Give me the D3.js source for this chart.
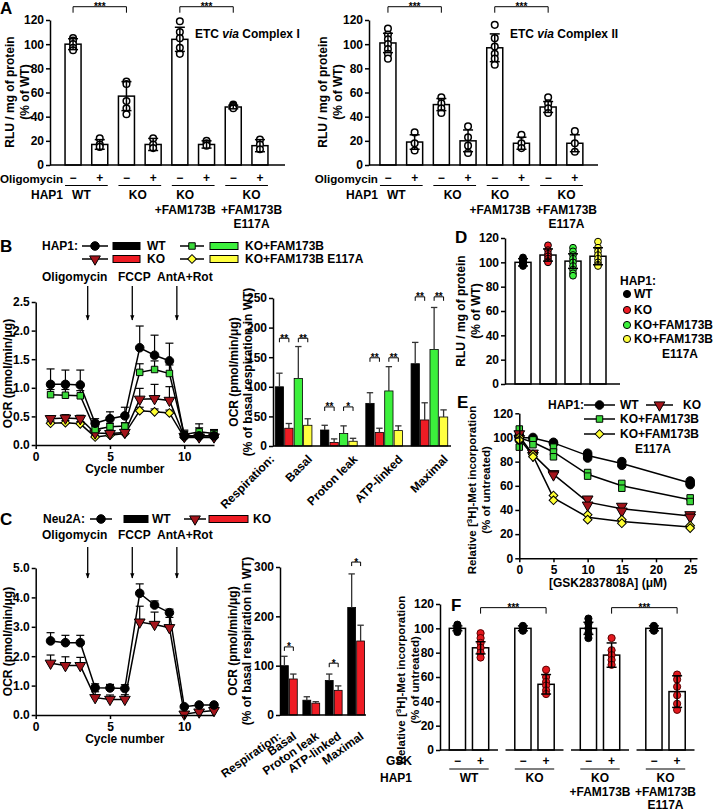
<!DOCTYPE html>
<html><head><meta charset="utf-8">
<script src="https://cdn.jsdelivr.net/npm/d3@7/dist/d3.min.js"></script>
<style>
html,body{margin:0;padding:0;background:#fff;}
svg{display:block;}
text{font-family:"Liberation Sans",Arial,Helvetica,sans-serif;font-weight:bold;}
</style></head>
<body>
<svg id="fig" width="713" height="812"></svg>
<script>
// ================= DATA =================
// ---- Panel A ----
const aTreatment = ["−","+","−","+","−","+","−","+"];
const aCellLines = [["WT"],["KO"],["KO","+FAM173B"],["KO","+FAM173B","E117A"]];
const aYTicks = [0,20,40,60,80,100,120];
const aSigPairs = [[0,2],[4,6]];
const aSigLevel = 131;
const aComplexIMean = [100,17,57,17,104,17,48,16];
const aComplexISd = [4.5,4,12,5,10,3,1.5,5];
const aComplexIPoints = [[105,103,100,97,95],[22,17,15],[69,67,53,47,42],[22,17,14],[119,110,105,97,92],[20,18,16],[50,49,48,47],[21,17,13]];
const aComplexIIMean = [101,19,50,20,97,18,48,18];
const aComplexIISd = [8,6,5,9,11.5,5,4.5,7];
const aComplexIIPoints = [[113,108,104,100,96,92,88],[27,18,12],[56,51,47,43],[32,23,16,10],[116,105,98,92,88,83],[25,18,14],[56,51,47,43],[28,18,11]];

// ---- Panel B ----
const cycles = [1,2,3,4,5,6,7,8,9,10,11,12];
const injections = ["Oligomycin","FCCP","AntA+Rot"];
const injectionAt = [3.5,6.5,9.5];
const cycleTicks = [0,5,10];
const bYTicks = [0,0.5,1,1.5,2,2.5];
const bWT    = [1.06,1.06,1.05,0.38,0.46,0.51,1.70,1.57,1.47,0.16,0.16,0.16];
const bWTSd  = [0.27,0.25,0.26,0.08,0.12,0.15,0.38,0.35,0.31,0.10,0.14,0.10];
const bKO    = [0.46,0.47,0.46,0.21,0.20,0.22,0.80,0.81,0.78,0.15,0.14,0.14];
const bKOSd  = [0.05,0.06,0.06,0.03,0.03,0.03,0.19,0.25,0.24,0.03,0.04,0.03];
const bFAM   = [0.88,0.87,0.86,0.27,0.32,0.33,1.27,1.32,1.25,0.18,0.23,0.20];
const bFAMSd = [0.09,0.10,0.09,0.06,0.06,0.06,0.15,0.15,0.15,0.06,0.14,0.07];
const bE117A   = [0.38,0.39,0.37,0.14,0.17,0.20,0.60,0.58,0.56,0.13,0.13,0.13];
const bE117ASd = [0.04,0.04,0.04,0.03,0.03,0.03,0.06,0.05,0.05,0.03,0.03,0.03];
const respCategories = ["Basal","Proton leak","ATP-linked","Maximal"];
const bRespYTicks = [0,50,100,150,200,250];
const bRespWT = [100,27,72,139];   const bRespWTSd = [23,8,18,36];
const bRespKO = [30,6,23,44];      const bRespKOSd = [8,6,7,29];
const bRespFAM = [114,21,93,163];  const bRespFAMSd = [54,13,41,71];
const bRespE117A = [35,8,26,49];   const bRespE117ASd = [11,5,8,12];
const bRespSig = [["**","**"],["**","*"],["**","**"],["**","**"]];
const bRespSigLevel = [182,66,149,252];

// ---- Panel C ----
const cYTicks = [0,1,2,3,4,5];
const cWT   = [2.52,2.46,2.46,0.93,0.92,0.90,4.14,3.74,3.48,0.28,0.34,0.34];
const cWTSd = [0.28,0.25,0.25,0.13,0.12,0.13,0.32,0.14,0.12,0.05,0.04,0.05];
const cKO   = [1.76,1.68,1.68,0.59,0.53,0.53,3.16,3.08,2.97,0.03,0.10,0.15];
const cKOSd = [0.28,0.30,0.28,0.20,0.15,0.16,0.54,0.42,0.35,0.03,0.03,0.04];
const cRespYTicks = [0,100,200,300];
const cRespWT = [100,30,70,218];  const cRespWTSd = [19,7,13,68];
const cRespKO = [73,24,50,150];   const cRespKOSd = [10,3,9,32];
const cRespSig = ["*","","*","*"];
const cRespSigLevel = [138,0,105,310];

// ---- Panel D ----
const dLines = ["WT","KO","KO+FAM173B","KO+FAM173B"];
const dKeys = ["WT","KO","FAM","E117A"];
const dYTicks = [0,20,40,60,80,100,120];
const dMean = [100,106,101,105];
const dSd = [3,5,6,7];
const dPoints = [[104,103,102,101,100,99,98,97],[114,110,107,105,103,101,100],[112,109,106,103,100,97,94,91,89],[117,112,109,106,103,100,98,97]];

// ---- Panel E ----
const eDoses = [0,2,5,10,15,25];
const eXTicks = [0,5,10,15,20,25];
const eYTicks = [0,20,40,60,80,100,120];
const eWT    = [[102,100,98],[100,99],[96,95],[87,85,83],[80,77],[64,62,61]];
const eKO    = [[103,99],[87,85],[70,69],[49,44],[43,39],[36,34]];
const eFAM   = [[107,100,92],[98,94],[92,88,84],[71,68],[62,58],[50,47]];
const eE117A = [[100,98],[86,84],[52,48],[36,32],[32,29],[27,25]];

// ---- Panel F ----
const fTreatment = ["−","+"];
const fCellLines = [["WT"],["KO"],["KO","+FAM173B"],["KO","+FAM173B","E117A"]];
const fYTicks = [0,20,40,60,80,100,120];
const fMean = [[100,84],[100,54],[100,78],[100,48]];
const fSd = [[2,5],[2,8],[5,10],[2,13]];
const fPoints = [[[103,101,100,99,97],[96,92,88,84,80,76]],
                 [[102,101,100,99,98],[66,60,56,53,49,46]],
                 [[108,104,100,96,92],[92,82,78,74,70]],
                 [[102,101,100,99,98],[62,58,52,45,38,33]]];
const fSigPairs = [[0,1],[2,3]];
const fSigLevel = 117;

// ================= STYLE =================
const FONT = '"Liberation Sans", Arial, Helvetica, sans-serif';
const STY = {
  WT:    {fill:"#000000", bar:"#000000", sym:"circle"},
  KO:    {fill:"#a3141b", bar:"#ee1c24", sym:"triangle"},
  FAM:   {fill:"#3ad83a", bar:"#3cf03c", sym:"square"},
  E117A: {fill:"#ffff33", bar:"#ffff40", sym:"diamond"}
};

const svg = d3.select("#fig");
svg.append("rect").attr("width",713).attr("height",812).attr("fill","#fff");
const defs = svg.append("defs");
defs.append("marker").attr("id","arrow").attr("viewBox","0 0 10 10").attr("refX",9).attr("refY",5)
  .attr("markerWidth",4).attr("markerHeight",5).attr("orient","auto")
  .append("path").attr("d","M0,1L10,5L0,9z").attr("fill","#000");

// ================= HELPERS =================
function txt(g, x, y, s, size=12, anchor="start", rot=null) {
  const t = g.append("text").attr("x",x).attr("y",y).attr("font-size",size).attr("text-anchor",anchor).attr("fill","#000").text(s);
  if (rot!==null) t.attr("transform",`rotate(${rot},${x},${y})`);
  return t;
}
function styleAxis(g){
  g.attr("font-family",FONT).attr("font-size",12).attr("font-weight","bold");
  g.selectAll("path,line").attr("stroke","#000").attr("stroke-width",1.5);
  g.selectAll("text").attr("fill","#000");
}
function yAxis(x0, y, ticks, fmt){
  const g = svg.append("g").attr("transform",`translate(${x0},0)`)
    .call(d3.axisLeft(y).tickValues(ticks).tickFormat(fmt).tickSize(4).tickSizeOuter(0).tickPadding(2));
  styleAxis(g); return g;
}
function xAxis(y0, x, ticks, fmt){
  const g = svg.append("g").attr("transform",`translate(0,${y0})`)
    .call(d3.axisBottom(x).tickValues(ticks).tickFormat(fmt).tickSize(4).tickSizeOuter(0).tickPadding(3));
  styleAxis(g); return g;
}
function hline(g, x1, x2, y, w=1.5){
  g.append("line").attr("x1",x1).attr("x2",x2).attr("y1",y).attr("y2",y).attr("stroke","#000").attr("stroke-width",w);
}
function errBar(g, x, yLo, yHi, half, both, color="#000", w=1.5){
  g.append("line").attr("x1",x).attr("x2",x).attr("y1",yLo).attr("y2",yHi).attr("stroke",color).attr("stroke-width",w);
  g.append("line").attr("x1",x-half).attr("x2",x+half).attr("y1",yHi).attr("y2",yHi).attr("stroke",color).attr("stroke-width",w);
  if (both) g.append("line").attr("x1",x-half).attr("x2",x+half).attr("y1",yLo).attr("y2",yLo).attr("stroke",color).attr("stroke-width",w);
}
function bracket(g, x1, x2, yb, label, drop=5, size=10){
  g.append("path").attr("d",`M${x1},${yb+drop}V${yb}H${x2}V${yb+drop}`).attr("fill","none").attr("stroke","#000").attr("stroke-width",1);
  txt(g,(x1+x2)/2, yb+3.5, label, size, "middle");
}
function drawSymbol(g, key, x, y){
  const st = STY[key];
  if (st.sym==="circle"){
    g.append("circle").attr("cx",x).attr("cy",y).attr("r",4.3).attr("fill",st.fill).attr("stroke","#000").attr("stroke-width",1);
    return;
  }
  let type=d3.symbolSquare, size=42, rot=0;
  if (st.sym==="triangle"){ type=d3.symbolTriangle; size=50; rot=180; }
  if (st.sym==="diamond"){ type=d3.symbolSquare; size=38; rot=45; }
  g.append("path").attr("d",d3.symbol(type,size)()).attr("transform",`translate(${x},${y}) rotate(${rot})`)
    .attr("fill",st.fill).attr("stroke","#000").attr("stroke-width",1);
}
function legendLine(g, key, x1, x2, y){
  hline(g,x1,x2,y,1.5);
  drawSymbol(g,key,(x1+x2)/2,y);
}
function legendRect(g, key, x1, x2, y){
  g.append("rect").attr("x",x1).attr("y",y-3.5).attr("width",x2-x1).attr("height",7)
    .attr("fill",STY[key].bar).attr("stroke","#000").attr("stroke-width",1);
}
function rotLabel(g, x, y, lines, size=12, gap=15){
  lines.forEach((s,i)=>txt(g, x + i*gap, y, s, size, "middle", -90));
}

// ================= PANEL A =================
function panelA(cfg){
  const g = svg.append("g");
  const y = d3.scaleLinear().domain([0,120]).range([165,20]);
  const x = d3.scaleBand().domain(d3.range(cfg.mean.length)).range(cfg.range).paddingInner(0.4).paddingOuter(0.2);
  const bw = x.bandwidth();
  const cx = i => x(i)+bw/2;
  g.selectAll("rect.bar").data(cfg.mean).join("rect").attr("class","bar")
    .attr("x",(d,i)=>x(i)).attr("y",d=>y(d)).attr("width",bw).attr("height",d=>y(0)-y(d))
    .attr("fill","#fff").attr("stroke","#000").attr("stroke-width",1.5);
  cfg.points.forEach((arr,i)=>arr.forEach(v=>{
    g.append("circle").attr("cx",cx(i)).attr("cy",y(v)).attr("r",3.3).attr("fill","#fff").attr("stroke","#000").attr("stroke-width",1.5);
  }));
  cfg.mean.forEach((m,i)=>errBar(g,cx(i),y(m-cfg.sd[i]),y(m+cfg.sd[i]),5,true));
  yAxis(cfg.axisX, y, aYTicks, d3.format("d"));
  hline(g, cfg.axisX, cfg.axisEnd, y(0));
  aSigPairs.forEach(p=>bracket(g,cx(p[0]),cx(p[1]),y(aSigLevel),"***",6,10));
  const t = g.append("text").attr("x",cfg.titleX).attr("y",38).attr("font-size",12).attr("fill","#000").attr("text-anchor","start");
  t.append("tspan").text("ETC ");
  t.append("tspan").attr("font-style","italic").text("via");
  t.append("tspan").text(cfg.title);
  const lx = cx(0)-10;
  txt(g, lx, 182.5, "Oligomycin", 11.6, "end");
  txt(g, lx, 199, "HAP1", 12, "end");
  aTreatment.forEach((s,i)=>txt(g,cx(i),182,s,12,"middle"));
  const labShift = [-5,-2,-8,5];
  aCellLines.forEach((lines,k)=>{
    hline(g, x(2*k), x(2*k+1)+bw, 185.5, 1.2);
    const mid = (cx(2*k)+cx(2*k+1))/2 + labShift[k];
    lines.forEach((s,j)=>txt(g, mid, [199,213.5,227.5][j], s, 12, "middle"));
  });
  rotLabel(g, cfg.ylabX, 92, ["RLU / mg of protein","(% of WT)"]);
}
txt(svg, 0, 14, "A", 17);
panelA({mean:aComplexIMean, sd:aComplexISd, points:aComplexIPoints, range:[59.7,273.3], axisX:50, axisEnd:285, title:" Complex I", titleX:195, ylabX:14});
panelA({mean:aComplexIIMean, sd:aComplexIISd, points:aComplexIIPoints, range:[374.6,588.2], axisX:369, axisEnd:598, title:" Complex II", titleX:510, ylabX:327});

// ================= LINE CHART (B & C left) =================
function lineChart(cfg){
  const g = svg.append("g");
  const x = d3.scaleLinear().domain([0,12]).range([35.7,214]);
  const y = d3.scaleLinear().domain(cfg.yDomain).range(cfg.yRange);
  const line = d3.line().x((d,i)=>x(cycles[i])).y(d=>y(d));
  cfg.series.forEach(s=>g.append("path").datum(s.vals).attr("d",line).attr("fill","none").attr("stroke","#000").attr("stroke-width",1.5));
  cfg.series.forEach(s=>s.vals.forEach((v,i)=>errBar(g,x(cycles[i]),y(v),y(v+s.sd[i]),4,false,"#000",1.2)));
  cfg.series.forEach(s=>s.vals.forEach((v,i)=>drawSymbol(g,s.key,x(cycles[i]),y(v))));
  yAxis(x(0), y, cfg.yTicks, d3.format(".1f"));
  xAxis(y(0), x, cycleTicks, d3.format("d"));
  txt(g, x(6), cfg.yRange[0]+28, "Cycle number", 12, "middle");
  rotLabel(g, 12, (cfg.yRange[0]+cfg.yRange[1])/2, ["OCR (pmol/min/μg)"]);
  const ax = [42,118,157];
  injections.forEach((s,i)=>{
    txt(g, ax[i], cfg.annY, s, 12, "start");
    g.append("line").attr("x1",x(injectionAt[i])).attr("x2",x(injectionAt[i])).attr("y1",cfg.arrowY[0]).attr("y2",cfg.arrowY[1])
      .attr("stroke","#000").attr("stroke-width",1.3).attr("marker-end","url(#arrow)");
  });
}

// ================= GROUPED BARS (B & C right) =================
function groupedBars(cfg){
  const g = svg.append("g");
  const y = d3.scaleLinear().domain(cfg.yDomain).range(cfg.yRange);
  const xg = d3.scaleBand().domain(respCategories).range(cfg.xRange).paddingInner(cfg.pi).paddingOuter(cfg.po);
  const keys = cfg.series.map(s=>s.key);
  const xs = d3.scaleBand().domain(keys).range([0,xg.bandwidth()]).paddingInner(0.12);
  const bw = xs.bandwidth();
  cfg.series.forEach(s=>{
    g.selectAll(null).data(s.vals).join("rect")
      .attr("x",(d,i)=>xg(respCategories[i])+xs(s.key)).attr("y",d=>y(d)).attr("width",bw).attr("height",d=>y(0)-y(d))
      .attr("fill",STY[s.key].bar).attr("stroke","#000").attr("stroke-width",0.8);
    s.vals.forEach((v,i)=>errBar(g,xg(respCategories[i])+xs(s.key)+bw/2,y(v),y(v+s.sd[i]),3.2,false,"#333",1.3));
  });
  yAxis(cfg.xRange[0], y, cfg.yTicks, d3.format("d"));
  hline(g, cfg.xRange[0], cfg.xRange[1]+1, y(0));
  respCategories.forEach((c,i)=>{
    cfg.sigPairs.forEach((p,j)=>{
      const lab = cfg.sig(i,j);
      if (!lab) return;
      const x1 = xg(c)+xs(keys[p[0]])+bw/2, x2 = xg(c)+xs(keys[p[1]])+bw/2;
      bracket(g,x1,x2,y(cfg.sigLevel[i]),lab,4,10);
    });
  });
  txt(g, cfg.xRange[0]+2, cfg.labY, "Respiration:", 12, "end", cfg.rot);
  respCategories.forEach(c=>txt(g, xg(c)+xg.bandwidth()+cfg.labDx, cfg.labY, c, 12, "end", cfg.rot));
  const cy = (cfg.yRange[0]+cfg.yRange[1])/2;
  rotLabel(g, cfg.ylabX, cy, ["OCR (pmol/min/μg)","(% of basal respiration in WT)"], 12, 14);
}

// ================= PANEL B =================
txt(svg, 0, 252, "B", 17);
{
  const g = svg.append("g");
  txt(g, 42, 250, "HAP1:", 12);
  legendLine(g,"WT",82,108,246); legendRect(g,"WT",113,140,246); txt(g,147,250,"WT");
  legendLine(g,"FAM",180,204,246); legendRect(g,"FAM",210,238,246); txt(g,245,250,"KO+FAM173B");
  legendLine(g,"KO",82,108,259); legendRect(g,"KO",113,140,259); txt(g,147,263,"KO");
  legendLine(g,"E117A",180,204,259); legendRect(g,"E117A",210,238,259); txt(g,245,263,"KO+FAM173B E117A");
}
lineChart({yDomain:[0,2.5], yRange:[445,302], yTicks:bYTicks, annY:281, arrowY:[286,320],
  series:[{key:"E117A",vals:bE117A,sd:bE117ASd},{key:"KO",vals:bKO,sd:bKOSd},{key:"FAM",vals:bFAM,sd:bFAMSd},{key:"WT",vals:bWT,sd:bWTSd}]});
groupedBars({yDomain:[0,250], yRange:[446,298], yTicks:bRespYTicks, xRange:[273,450], pi:0.19, po:0.05,
  series:[{key:"WT",vals:bRespWT,sd:bRespWTSd},{key:"KO",vals:bRespKO,sd:bRespKOSd},{key:"FAM",vals:bRespFAM,sd:bRespFAMSd},{key:"E117A",vals:bRespE117A,sd:bRespE117ASd}],
  sigPairs:[[0,1],[2,3]], sig:(i,j)=>bRespSig[i][j], sigLevel:bRespSigLevel, labY:460, labDx:1, rot:-45, ylabX:238});

// ================= PANEL C =================
txt(svg, 0, 525, "C", 17);
{
  const g = svg.append("g");
  txt(g, 43, 523, "Neu2A:", 12);
  legendLine(g,"WT",90,112,519); legendRect(g,"WT",124,148,519); txt(g,152,523,"WT");
  legendLine(g,"KO",184,206,519); legendRect(g,"KO",209,248,519); txt(g,253,523,"KO");
}
lineChart({yDomain:[0,5], yRange:[715,568], yTicks:cYTicks, annY:539, arrowY:[547,578],
  series:[{key:"KO",vals:cKO,sd:cKOSd},{key:"WT",vals:cWT,sd:cWTSd}]});
groupedBars({yDomain:[0,300], yRange:[715,567], yTicks:cRespYTicks, xRange:[280,365], pi:0.25, po:0.02,
  series:[{key:"WT",vals:cRespWT,sd:cRespWTSd},{key:"KO",vals:cRespKO,sd:cRespKOSd}],
  sigPairs:[[0,1]], sig:(i,j)=>cRespSig[i], sigLevel:cRespSigLevel, labY:738, labDx:0, rot:-35, ylabX:237});

// ================= PANEL D =================
txt(svg, 455, 243, "D", 17);
{
  const g = svg.append("g");
  const y = d3.scaleLinear().domain([0,120]).range([384,238]);
  const x = d3.scaleBand().domain(d3.range(dMean.length)).range([510.5,610.5]).paddingInner(0.36).paddingOuter(0.18);
  const bw = x.bandwidth();
  g.selectAll(null).data(dMean).join("rect").attr("x",(d,i)=>x(i)).attr("y",d=>y(d)).attr("width",bw).attr("height",d=>y(0)-y(d))
    .attr("fill","#fff").attr("stroke","#000").attr("stroke-width",1.5);
  dPoints.forEach((arr,i)=>arr.forEach(v=>g.append("circle").attr("cx",x(i)+bw/2).attr("cy",y(v)).attr("r",3.4)
    .attr("fill",STY[dKeys[i]].bar).attr("stroke","#000").attr("stroke-width",1)));
  dMean.forEach((m,i)=>errBar(g,x(i)+bw/2,y(m-dSd[i]),y(m+dSd[i]),5,true));
  yAxis(505, y, dYTicks, d3.format("d"));
  hline(g, 505, 620, y(0));
  rotLabel(g, 465, 311, ["RLU / mg of protein","(% of WT)"], 12, 15);
  txt(g, 620, 285, "HAP1:", 12);
  const ly = [298,314,329,343];
  dKeys.forEach((k,i)=>{
    g.append("circle").attr("cx",627).attr("cy",ly[i]-4).attr("r",3.6).attr("fill",STY[k].bar).attr("stroke","#000").attr("stroke-width",1);
    txt(g, 634, ly[i], dLines[i], 12);
  });
  txt(g, 662, 358, "E117A", 12);
}

// ================= PANEL E =================
txt(svg, 457, 408, "E", 17);
{
  const g = svg.append("g");
  const x = d3.scaleLinear().domain([0,26]).range([519.3,697]);
  const y = d3.scaleLinear().domain([0,120]).range([558.3,413.3]);
  const series = [{key:"WT",reps:eWT},{key:"FAM",reps:eFAM},{key:"KO",reps:eKO},{key:"E117A",reps:eE117A}];
  const line = d3.line().x((d,i)=>x(eDoses[i])).y(d=>y(d3.mean(d)));
  series.forEach(s=>g.append("path").datum(s.reps).attr("d",line).attr("fill","none").attr("stroke","#000").attr("stroke-width",1.5));
  series.forEach(s=>s.reps.forEach((arr,i)=>arr.forEach(v=>drawSymbol(g,s.key,x(eDoses[i]),y(v)))));
  yAxis(x(0), y, eYTicks, d3.format("d"));
  xAxis(y(0), x, eXTicks, d3.format("d"));
  txt(g, 608, 587, "[GSK2837808A] (μM)", 12, "middle");
  const t = g.append("text").attr("x",476).attr("y",490).attr("font-size",11.5).attr("text-anchor","middle").attr("fill","#000")
    .attr("transform","rotate(-90,476,490)");
  t.append("tspan").text("Relative [");
  t.append("tspan").attr("font-size",8).attr("dy",-4).text("3");
  t.append("tspan").attr("dy",4).text("H]-Met incorporation");
  txt(g, 490, 490, "(% of untreated)", 11.5, "middle", -90);
  txt(g, 548, 409, "HAP1:", 12);
  legendLine(g,"WT",584,615,405); txt(g,620,409,"WT");
  legendLine(g,"KO",646,673,405); txt(g,683,409,"KO");
  legendLine(g,"FAM",584,615,419); txt(g,620,423,"KO+FAM173B");
  legendLine(g,"E117A",584,615,434); txt(g,620,438,"KO+FAM173B");
  txt(g,635,453,"E117A");
}

// ================= PANEL F =================
txt(svg, 451, 611, "F", 17);
{
  const g = svg.append("g");
  const y = d3.scaleLinear().domain([0,120]).range([750,604]);
  const xg = d3.scaleBand().domain(d3.range(fMean.length)).range([440,694.5]).paddingInner(0.115);
  const xs = d3.scaleBand().domain(fTreatment).range([0,xg.bandwidth()]).paddingInner(0.3).paddingOuter(0.4);
  const bw = xs.bandwidth();
  const cx = (k,t) => xg(k)+xs(t)+bw/2;
  fMean.forEach((pair,k)=>{
    fTreatment.forEach((t,j)=>{
      const m = pair[j];
      g.append("rect").attr("x",xg(k)+xs(t)).attr("y",y(m)).attr("width",bw).attr("height",y(0)-y(m))
        .attr("fill","#fff").attr("stroke","#000").attr("stroke-width",1.5);
      fPoints[k][j].forEach(v=>g.append("circle").attr("cx",cx(k,t)).attr("cy",y(v)).attr("r",3.6)
        .attr("fill", j===0 ? "#000" : "#e3181e").attr("stroke", j===0 ? "#000" : "#5a0000").attr("stroke-width",1));
      errBar(g, cx(k,t), y(m-fSd[k][j]), y(m+fSd[k][j]), 5, true);
      txt(g, cx(k,t), 765, t, 12, "middle");
    });
    hline(g, xg(k), xg(k)+xg.bandwidth(), y(0));
    hline(g, xg(k)+xs("−"), xg(k)+xs("+")+bw, 769, 1.2);
    const mid = (cx(k,"−")+cx(k,"+"))/2;
    fCellLines[k].forEach((s,i)=>txt(g, mid, [782,796,809][i], s, 12, "middle"));
  });
  yAxis(440, y, fYTicks, d3.format("d"));
  fSigPairs.forEach(p=>bracket(g, cx(p[0],"+"), cx(p[1],"+"), y(fSigLevel), "***", 6, 10));
  txt(g, 412, 765, "GSK", 12, "end");
  txt(g, 412, 782, "HAP1", 12, "end");
  const t = g.append("text").attr("x",405).attr("y",680).attr("font-size",11.5).attr("text-anchor","middle").attr("fill","#000")
    .attr("transform","rotate(-90,405,680)");
  t.append("tspan").text("Relative [");
  t.append("tspan").attr("font-size",8).attr("dy",-4).text("3");
  t.append("tspan").attr("dy",4).text("H]-Met incorporation");
  txt(g, 419, 680, "(% of untreated)", 11.5, "middle", -90);
}
</script>
</body></html>
